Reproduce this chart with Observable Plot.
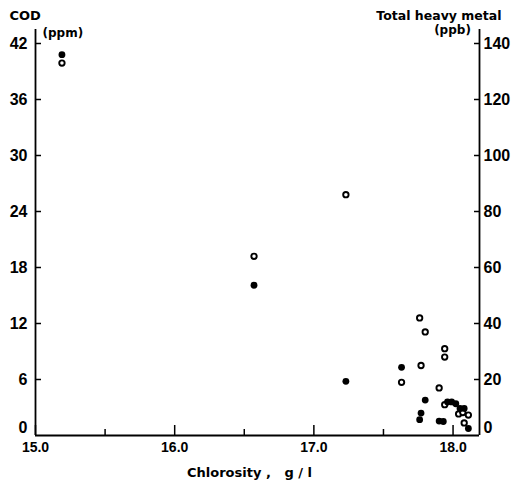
<!DOCTYPE html>
<html><head><meta charset="utf-8">
<script src="https://cdn.jsdelivr.net/npm/d3@7"></script>
<script src="https://cdn.jsdelivr.net/npm/@observablehq/plot@0.6"></script>
<style>body{margin:0;background:#fff}</style>
</head><body><div id="chart"></div>
<script>
// COD (ppm) — filled dots
const codX = [15.19, 16.57, 17.23, 17.63, 17.80, 17.77, 17.76, 17.90, 17.93, 17.96, 17.99, 18.02, 18.05, 18.08, 18.11];
const codY = [40.8, 16.1, 5.8, 7.3, 3.8, 2.4, 1.7, 1.55, 1.5, 3.6, 3.6, 3.4, 2.9, 2.9, 0.75];
// Total heavy metal (ppb) — open circles
const metalX = [15.19, 16.57, 17.23, 17.76, 17.80, 17.94, 17.94, 17.77, 17.63, 17.90, 17.94, 18.04, 18.07, 18.11, 18.08];
const metalY = [133, 64, 86, 42, 37, 31, 28, 25, 19, 17, 11, 7.7, 8.2, 7.3, 4.5];

const xDomain = [15, 18.19];
const yDomain = [0, 43.5];
const xMajor = [15, 16, 17, 18];
const xMinor = [15.5, 16.5, 17.5];
const xTickLabels = ["15.0", "16.0", "17.0", "18.0"];
const yTicks = [0, 6, 12, 18, 24, 30, 36, 42];
const codTickLabels = ["0", "6", "12", "18", "24", "30", "36", "42"];
const metalTickLabels = ["0", "20", "40", "60", "80", "100", "120", "140"];
const ppbToPpm = 42 / 140;

const cod = codX.map((x, i) => ({x, y: codY[i]}));
const metal = metalX.map((x, i) => ({x, y: metalY[i] * ppbToPpm}));

const font = "DejaVu Sans";
const numFont = "Liberation Sans";
const chart = Plot.plot({
  width: 512, height: 484,
  marginLeft: 35, marginRight: 33, marginTop: 29, marginBottom: 49,
  x: {domain: xDomain},
  y: {domain: yDomain},
  style: {fontFamily: font, fontSize: "15px", color: "black", background: "white"},
  marks: [
    Plot.ruleX(xDomain, {stroke: "black", strokeWidth: 1.8}),
    Plot.ruleY([0], {stroke: "black", strokeWidth: 1.8}),
    Plot.axisX(xMajor, {tickSize: -10, tickPadding: 17, strokeWidth: 1.5, fontSize: 14, fontWeight: "bold", fontFamily: numFont,
      tickFormat: d => xTickLabels[xMajor.indexOf(d)], label: null}),
    Plot.axisX(xMinor, {tickSize: -6, strokeWidth: 1.5, tickFormat: () => "", label: null}),
    Plot.axisY(yTicks.slice(1), {tickSize: -6, tickPadding: 14, strokeWidth: 1.5, fontSize: 16, fontWeight: "bold", fontFamily: numFont,
      tickFormat: d => codTickLabels[yTicks.indexOf(d)], label: null}),
    Plot.axisY([0], {tickSize: 0, tickPadding: 8, dy: -8, fontSize: 16, fontWeight: "bold", fontFamily: numFont,
      tickFormat: d => codTickLabels[yTicks.indexOf(d)], label: null}),
    Plot.axisY(yTicks.slice(1), {anchor: "right", tickSize: -6, tickPadding: 10, strokeWidth: 1.5, fontSize: 16, fontWeight: "bold", fontFamily: numFont,
      tickFormat: d => metalTickLabels[yTicks.indexOf(d)], label: null}),
    Plot.axisY([0], {anchor: "right", tickSize: 0, tickPadding: 4, dy: -8, fontSize: 16, fontWeight: "bold", fontFamily: numFont,
      tickFormat: d => metalTickLabels[yTicks.indexOf(d)], label: null}),
    Plot.dot(metal, {x: "x", y: "y", r: 2.7, stroke: "black", strokeWidth: 1.9, fill: "white"}),
    Plot.dot(cod, {x: "x", y: "y", r: 3.4, fill: "black"}),
    Plot.text(["COD"], {frameAnchor: "top-left", dx: -26, dy: -14, textAnchor: "start", lineAnchor: "middle", fontWeight: "bold", fontSize: 13}),
    Plot.text(["(ppm)"], {frameAnchor: "top-left", dx: 7, dy: 4, textAnchor: "start", lineAnchor: "middle", fontSize: 12, fontWeight: "bold"}),
    Plot.text(["Total heavy metal"], {frameAnchor: "top-right", dx: 22, dy: -14, textAnchor: "end", lineAnchor: "middle", fontWeight: "bold", fontSize: 12.5}),
    Plot.text(["(ppb)"], {frameAnchor: "top-right", dx: -27, dy: 1, textAnchor: "middle", lineAnchor: "middle", fontSize: 12, fontWeight: "bold"}),
    Plot.text(["Chlorosity ,\u00a0\u00a0\u00a0g / l"], {frameAnchor: "bottom", dx: -8, dy: 37, textAnchor: "middle", lineAnchor: "middle", fontWeight: "bold", fontSize: 13, letterSpacing: "1px"})
  ]
});
document.getElementById("chart").appendChild(chart);
</script>
</body></html>
